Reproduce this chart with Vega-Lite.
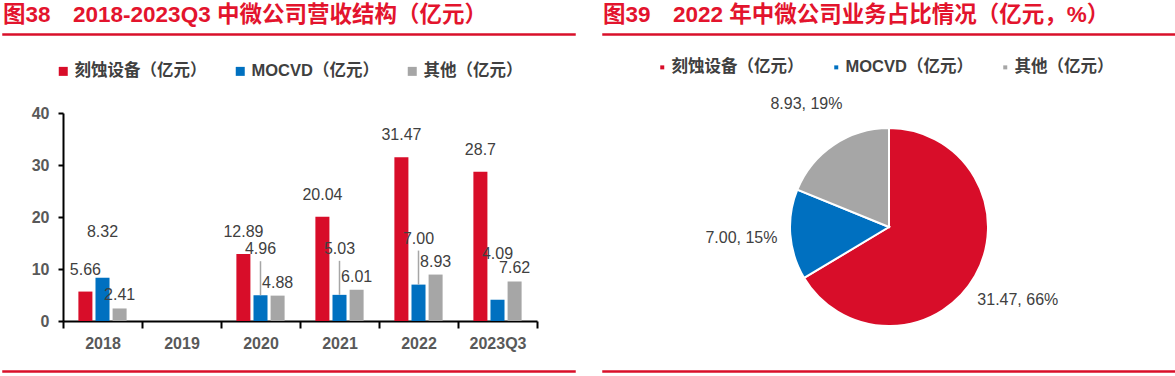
{
  "$schema": "https://vega.github.io/schema/vega-lite/v6.json",
  "padding": {"left": 2, "top": 2, "right": 0, "bottom": 0},
  "autosize": {"type": "pad"},
  "config": {
    "view": {"stroke": null},
    "font": "Liberation Sans, Noto Sans CJK SC",
    "title": {"fontSize": 22.5, "fontWeight": "bold", "color": "#e3142d", "anchor": "start", "offset": 8, "font": "Liberation Sans, Noto Sans CJK SC"}
  },
  "datasets": {
    "bars": [
      {"year": "2018", "series": "刻蚀设备（亿元）", "value": 5.66, "label": "5.66"},
      {"year": "2018", "series": "MOCVD（亿元）", "value": 8.32, "label": "8.32"},
      {"year": "2018", "series": "其他（亿元）", "value": 2.41, "label": "2.41"},
      {"year": "2020", "series": "刻蚀设备（亿元）", "value": 12.89, "label": "12.89"},
      {"year": "2020", "series": "MOCVD（亿元）", "value": 4.96, "label": "4.96"},
      {"year": "2020", "series": "其他（亿元）", "value": 4.88, "label": "4.88"},
      {"year": "2021", "series": "刻蚀设备（亿元）", "value": 20.04, "label": "20.04"},
      {"year": "2021", "series": "MOCVD（亿元）", "value": 5.03, "label": "5.03"},
      {"year": "2021", "series": "其他（亿元）", "value": 6.01, "label": "6.01"},
      {"year": "2022", "series": "刻蚀设备（亿元）", "value": 31.47, "label": "31.47"},
      {"year": "2022", "series": "MOCVD（亿元）", "value": 7.0, "label": "7.00"},
      {"year": "2022", "series": "其他（亿元）", "value": 8.93, "label": "8.93"},
      {"year": "2023Q3", "series": "刻蚀设备（亿元）", "value": 28.7, "label": "28.7"},
      {"year": "2023Q3", "series": "MOCVD（亿元）", "value": 4.09, "label": "4.09"},
      {"year": "2023Q3", "series": "其他（亿元）", "value": 7.62, "label": "7.62"}
    ],
    "pie": [
      {"series": "刻蚀设备（亿元）", "value": 31.47, "label": "31.47, 66%"},
      {"series": "MOCVD（亿元）", "value": 7.0, "label": "7.00, 15%"},
      {"series": "其他（亿元）", "value": 8.93, "label": "8.93, 19%"}
    ]
  },
  "concat": [
    {
      "concat": [
        {
          "width": 572, "height": 1,
          "data": {"values": []},
          "mark": "rule",
          "encoding": {},
          "view": {"stroke": "#d9102a", "strokeWidth": 1.5, "fill": "#d9102a"},
          "title": {"text": "图38\u30002018-2023Q3 中微公司营收结构（亿元）"}
        },
        {
          "concat": [
            {
              "width": 572, "height": 208,
              "data": {"name": "bars"},
              "encoding": {
                "x": {
                  "field": "year", "type": "nominal",
                  "scale": {"domain": ["2018", "2019", "2020", "2021", "2022", "2023Q3"], "range": [60, 534], "paddingInner": 0, "paddingOuter": 0},
                  "axis": {"title": null, "tickBand": "extent", "domainColor": "#000000", "domainWidth": 2, "tickColor": "#000000", "tickWidth": 2, "tickSize": 7, "labelFontSize": 16, "labelFontWeight": "bold", "labelColor": "#595959", "labelPadding": 7, "labelAngle": 0}
                },
                "xOffset": {
                  "field": "series", "type": "nominal",
                  "sort": ["刻蚀设备（亿元）", "MOCVD（亿元）", "其他（亿元）"],
                  "scale": {"paddingInner": 0.18, "paddingOuter": 0.9}
                },
                "y": {
                  "field": "value", "type": "quantitative",
                  "scale": {"domain": [0, 40]},
                  "axis": {"values": [0, 10, 20, 30, 40], "offset": -60, "grid": false, "domainColor": "#000000", "domainWidth": 2, "tickColor": "#000000", "tickWidth": 2, "tickSize": 5, "labelFontSize": 16, "labelFontWeight": "bold", "labelColor": "#595959", "labelPadding": 9, "title": null}
                }
              },
              "layer": [
                {
                  "mark": {"type": "bar"},
                  "encoding": {
                    "color": {
                      "field": "series", "type": "nominal",
                      "sort": ["刻蚀设备（亿元）", "MOCVD（亿元）", "其他（亿元）"],
                      "scale": {"domain": ["刻蚀设备（亿元）", "MOCVD（亿元）", "其他（亿元）"], "range": ["#d80d29", "#0070c0", "#a6a6a6"]},
                      "legend": {"orient": "none", "legendX": 48, "legendY": -54, "padding": 4, "direction": "horizontal", "title": null, "symbolType": "square", "symbolSize": 81, "symbolStrokeWidth": 0, "labelFontSize": 16.5, "labelFontWeight": "bold", "labelColor": "#404040", "labelOffset": 3, "columnPadding": 25}
                    }
                  }
                },
                {
                  "transform": [{"filter": "datum.series == 'MOCVD（亿元）' && datum.year != '2018' && datum.year != '2023Q3'"}],
                  "mark": {"type": "rule", "color": "#a6a6a6", "strokeWidth": 1.5, "y2Offset": -34},
                  "encoding": {"y2": {"field": "value"}}
                },
                {
                  "transform": [{"filter": "datum.series == '刻蚀设备（亿元）'"}],
                  "mark": {"type": "text", "dy": -22, "fontSize": 16, "color": "#404040", "font": "Liberation Sans"},
                  "encoding": {"text": {"field": "label", "type": "nominal"}}
                },
                {
                  "transform": [{"filter": "datum.series == 'MOCVD（亿元）'"}],
                  "mark": {"type": "text", "dy": -46, "fontSize": 16, "color": "#404040", "font": "Liberation Sans"},
                  "encoding": {"text": {"field": "label", "type": "nominal"}}
                },
                {
                  "transform": [{"filter": "datum.series == '其他（亿元）'"}],
                  "mark": {"type": "text", "dy": -13, "fontSize": 16, "color": "#404040", "font": "Liberation Sans"},
                  "encoding": {"text": {"field": "label", "type": "nominal"}}
                }
              ]
            },
            {
              "width": 572, "height": 1,
              "data": {"values": []},
              "mark": "rule",
              "encoding": {},
              "view": {"stroke": "#d9102a", "strokeWidth": 1.5, "fill": "#d9102a"}
            }
          ],
          "columns": 1,
          "align": "none",
          "spacing": 19,
          "resolve": {"scale": {"color": "independent"}, "legend": {"color": "independent"}}
        }
      ],
      "columns": 1,
      "align": "none",
      "spacing": 23,
      "resolve": {"scale": {"color": "independent"}, "legend": {"color": "independent"}}
    },
    {
      "concat": [
        {
          "width": 572, "height": 1,
          "data": {"values": []},
          "mark": "rule",
          "encoding": {},
          "view": {"stroke": "#d9102a", "strokeWidth": 1.5, "fill": "#d9102a"},
          "title": {"text": "图39\u30002022 年中微公司业务占比情况（亿元，%）"}
        },
        {
          "concat": [
            {
              "width": 572, "height": 228,
              "data": {"name": "pie"},
              "transform": [{"window": [{"op": "row_number", "as": "rank"}]}],
              "encoding": {
                "theta": {"field": "value", "type": "quantitative", "stack": true},
                "order": {"field": "rank", "type": "quantitative"}
              },
              "layer": [
                {
                  "mark": {"type": "arc", "outerRadius": 99, "stroke": "#ffffff", "strokeWidth": 2},
                  "encoding": {
                    "color": {
                      "field": "series", "type": "nominal",
                      "scale": {"domain": ["刻蚀设备（亿元）", "MOCVD（亿元）", "其他（亿元）"], "range": ["#d80d29", "#0070c0", "#a6a6a6"]},
                      "legend": {"orient": "none", "legendX": 51, "legendY": -54, "padding": 0, "direction": "horizontal", "title": null, "symbolType": "square", "symbolSize": 16, "symbolStrokeWidth": 0, "labelFontSize": 16.5, "labelFontWeight": "bold", "labelColor": "#404040", "labelOffset": 1, "columnPadding": 24}
                    }
                  }
                },
                {
                  "mark": {"type": "text", "radius": 148, "fontSize": 16, "color": "#404040", "font": "Liberation Sans"},
                  "encoding": {"text": {"field": "label", "type": "nominal"}}
                }
              ]
            },
            {
              "width": 572, "height": 1,
              "data": {"values": []},
              "mark": "rule",
              "encoding": {},
              "view": {"stroke": "#d9102a", "strokeWidth": 1.5, "fill": "#d9102a"}
            }
          ],
          "columns": 1,
          "align": "none",
          "spacing": 29,
          "resolve": {"scale": {"color": "independent"}, "legend": {"color": "independent"}}
        }
      ],
      "columns": 1,
      "align": "none",
      "spacing": 23,
      "resolve": {"scale": {"color": "independent"}, "legend": {"color": "independent"}}
    }
  ],
  "columns": 2,
  "align": "none",
  "spacing": 26,
  "resolve": {"scale": {"color": "independent"}, "legend": {"color": "independent"}}
}
